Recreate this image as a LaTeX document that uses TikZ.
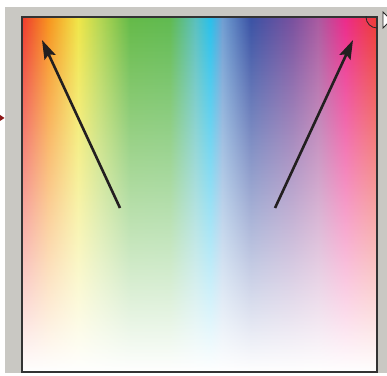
\documentclass[tikz,border=0pt]{standalone}
\usetikzlibrary{arrows.meta,fadings}
\definecolor{panelgray}{RGB}{201, 200, 195}
\definecolor{arrowdark}{RGB}{35, 31, 32}
\definecolor{markred}{RGB}{140, 22, 22}
\definecolor{spA}{RGB}{238, 58, 46}
\definecolor{spB}{RGB}{247, 148, 30}
\definecolor{spC}{RGB}{240, 230, 72}
\definecolor{spD}{RGB}{180, 214, 82}
\definecolor{spE}{RGB}{100, 186, 72}
\definecolor{spF}{RGB}{96, 186, 80}
\definecolor{spG}{RGB}{90, 192, 190}
\definecolor{spH}{RGB}{40, 192, 235}
\definecolor{spI}{RGB}{112, 158, 210}
\definecolor{spJ}{RGB}{58, 82, 164}
\definecolor{spK}{RGB}{120, 80, 158}
\definecolor{spL}{RGB}{170, 90, 160}
\definecolor{spM}{RGB}{236, 42, 138}
\definecolor{spN}{RGB}{238, 60, 52}
\pgfdeclarehorizontalshading{spectrum}{100bp}{color(0bp)=(spA); color(25bp)=(spA);
  color(28.7bp)=(spB); color(32.9bp)=(spC); color(36bp)=(spD); color(40.2bp)=(spE);
  color(45.8bp)=(spF); color(49.4bp)=(spG); color(51.5bp)=(spH); color(53.2bp)=(spI);
  color(57.2bp)=(spJ); color(63bp)=(spK); color(66.7bp)=(spL); color(70.5bp)=(spM);
  color(75bp)=(spN); color(100bp)=(spN)}
\tikzfading[name=towhite, top color=transparent!100, middle color=transparent!57, bottom color=transparent!0]

\begin{document}
\begin{tikzpicture}[x=1pt, y=1pt]
        \useasboundingbox (0,0) rectangle (387,375);
        \clip (0,0) rectangle (387,375);
        \fill[white] (0,0) rectangle (387,375);
        \fill[panelgray] (5,2) rectangle (392,368);
        % colour field
        \shade[shading=spectrum] (22,3) rectangle (377,358);
        \fill[white, path fading=towhite] (22,3) rectangle (377,358);
        \draw[line width=1.4pt, black!80] (22,3) rectangle (377,358);
        \begin{scope}
          \clip (22,3) rectangle (377,358);
          \draw[line width=0.8pt, black!85] (377,358) circle (11);
        \end{scope}
        % markers
        \fill[markred] (-3,262) -- (4.5,257) -- (-3,252) -- cycle;
        \draw[fill=white, draw=black!85, line width=0.8pt] (383,363) -- (391,355) -- (383,347) -- cycle;
        % arrows
        \coordinate (leftfoot) at (120,167);
        \coordinate (lefthead) at (42,335);
        \coordinate (rightfoot) at (275,167);
        \coordinate (righthead) at (353,335);
        \draw[-{Stealth[length=19pt, width=12pt, inset=3pt]}, line width=2.6pt, arrowdark] (leftfoot) -- (lefthead);
        \draw[-{Stealth[length=19pt, width=12pt, inset=3pt]}, line width=2.6pt, arrowdark] (rightfoot) -- (righthead);
      \end{tikzpicture}
\end{document}
